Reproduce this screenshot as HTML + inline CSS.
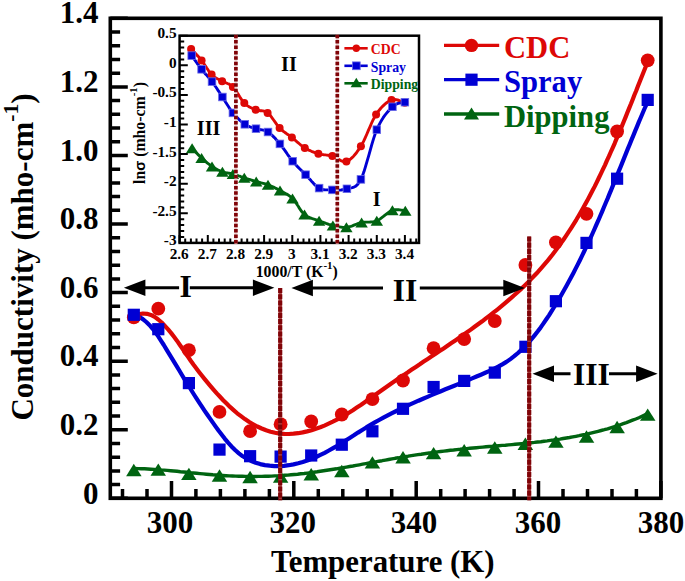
<!DOCTYPE html>
<html><head><meta charset="utf-8"><title>Conductivity vs Temperature</title>
<style>html,body{margin:0;padding:0;background:#fff}body{width:685px;height:581px;overflow:hidden;font-family:"Liberation Serif",serif}</style></head>
<body>
<svg width="685" height="581" viewBox="0 0 685 581" style="display:block;font-family:'Liberation Serif',serif;font-weight:bold">
<rect width="685" height="581" fill="#fff"/>
<path d="M134.7 468.5 L138.0 468.6 L141.2 468.7 L144.5 468.8 L147.8 469.0 L151.0 469.2 L154.3 469.4 L157.5 469.6 L160.8 469.9 L164.1 470.1 L167.3 470.4 L170.6 470.7 L173.8 471.0 L177.1 471.3 L180.4 471.7 L183.6 472.0 L186.9 472.3 L190.1 472.7 L193.4 473.0 L196.7 473.3 L199.9 473.6 L203.2 473.9 L206.4 474.2 L209.7 474.5 L212.9 474.8 L216.2 475.0 L219.5 475.3 L222.7 475.5 L226.0 475.7 L229.2 475.9 L232.5 476.0 L235.7 476.1 L239.0 476.2 L242.3 476.3 L245.5 476.4 L248.8 476.4 L252.0 476.5 L255.3 476.5 L258.5 476.4 L261.8 476.4 L265.0 476.3 L268.3 476.2 L271.5 476.1 L274.8 475.9 L278.1 475.8 L281.3 475.6 L284.6 475.3 L287.8 475.1 L291.1 474.8 L294.3 474.5 L297.6 474.2 L300.8 473.8 L304.1 473.5 L307.3 473.1 L310.6 472.7 L313.8 472.2 L317.1 471.8 L320.3 471.3 L323.6 470.8 L326.8 470.3 L330.1 469.8 L333.4 469.3 L336.6 468.8 L339.9 468.2 L343.1 467.7 L346.4 467.1 L349.6 466.5 L352.9 466.0 L356.1 465.4 L359.4 464.8 L362.6 464.2 L365.9 463.6 L369.1 463.0 L372.4 462.4 L375.6 461.8 L378.9 461.2 L382.1 460.7 L385.4 460.1 L388.6 459.5 L391.9 458.9 L395.1 458.3 L398.4 457.8 L401.6 457.2 L404.9 456.7 L408.1 456.2 L411.4 455.6 L414.6 455.1 L417.9 454.6 L421.1 454.2 L424.4 453.7 L427.6 453.2 L430.9 452.8 L434.1 452.3 L437.4 451.9 L440.6 451.5 L443.9 451.1 L447.1 450.7 L450.4 450.3 L453.6 450.0 L456.9 449.6 L460.1 449.3 L463.3 448.9 L466.6 448.6 L469.8 448.3 L473.1 448.0 L476.3 447.7 L479.5 447.4 L482.8 447.1 L486.0 446.8 L489.3 446.5 L492.5 446.3 L495.7 446.0 L498.9 445.7 L502.2 445.4 L505.4 445.2 L508.6 444.9 L511.9 444.6 L515.1 444.3 L518.3 444.0 L521.5 443.7 L524.7 443.4 L527.9 443.1 L531.2 442.7 L534.4 442.4 L537.6 442.0 L540.8 441.7 L544.0 441.3 L547.2 440.9 L550.4 440.4 L553.6 440.0 L556.8 439.5 L560.0 439.1 L563.2 438.5 L566.4 438.0 L569.5 437.5 L572.7 436.9 L575.9 436.3 L579.1 435.7 L582.3 435.0 L585.4 434.4 L588.6 433.7 L591.8 432.9 L594.9 432.1 L598.1 431.3 L601.2 430.5 L604.4 429.7 L607.6 428.8 L610.7 427.8 L613.8 426.8 L617.0 425.8 L620.1 424.8 L623.3 423.7 L626.4 422.6 L629.5 421.4 L632.6 420.2 L635.8 419.0 L638.9 417.7 L642.0 416.3 L645.1 414.9 L648.2 413.5" fill="none" stroke="#006411" stroke-width="3.4" stroke-linejoin="round" stroke-linecap="round"/>
<path d="M134.0 316.5 L138.6 314.4 L142.9 313.5 L147.0 313.8 L150.9 314.9 L154.7 316.9 L158.2 319.5 L161.7 322.5 L164.9 325.9 L168.1 329.4 L171.2 333.1 L174.2 337.0 L177.1 340.9 L179.9 345.0 L182.7 349.0 L185.4 353.0 L188.2 357.0 L190.9 361.0 L193.6 364.8 L196.4 368.5 L199.2 372.2 L202.0 375.8 L204.9 379.4 L207.8 382.9 L210.7 386.4 L213.7 389.9 L216.8 393.4 L220.0 396.8 L223.2 400.2 L226.6 403.6 L230.0 406.9 L233.6 410.1 L237.2 413.3 L241.0 416.2 L244.9 419.1 L248.9 421.8 L253.1 424.2 L257.3 426.5 L261.7 428.5 L266.1 430.3 L270.6 431.7 L275.1 432.8 L279.7 433.6 L284.3 433.9 L288.9 434.0 L293.5 433.7 L298.1 433.2 L302.7 432.4 L307.1 431.4 L311.6 430.2 L315.9 428.8 L320.2 427.3 L324.4 425.6 L328.6 423.7 L332.8 421.7 L336.9 419.6 L340.9 417.4 L344.9 415.1 L348.9 412.7 L352.9 410.2 L356.8 407.6 L360.8 405.0 L364.7 402.3 L368.6 399.6 L372.5 396.8 L376.4 394.1 L380.3 391.3 L384.2 388.5 L388.1 385.8 L392.0 383.0 L396.0 380.3 L399.9 377.6 L403.9 374.9 L407.9 372.3 L411.8 369.6 L415.8 366.9 L419.8 364.3 L423.7 361.6 L427.7 359.0 L431.7 356.3 L435.6 353.7 L439.6 351.1 L443.6 348.4 L447.5 345.7 L451.4 343.1 L455.3 340.4 L459.2 337.7 L463.1 335.0 L467.0 332.3 L470.8 329.6 L474.6 326.8 L478.4 324.0 L482.2 321.3 L485.9 318.4 L489.6 315.6 L493.3 312.7 L497.0 309.8 L500.6 306.9 L504.2 303.9 L507.7 300.9 L511.2 297.9 L514.7 294.8 L518.1 291.7 L521.5 288.6 L524.8 285.4 L528.1 282.2 L531.3 278.9 L534.5 275.5 L537.7 272.2 L540.8 268.7 L543.8 265.2 L546.8 261.7 L549.7 258.1 L552.6 254.5 L555.4 250.8 L558.2 247.1 L560.9 243.3 L563.6 239.5 L566.2 235.6 L568.8 231.7 L571.3 227.8 L573.8 223.8 L576.3 219.8 L578.7 215.7 L581.1 211.6 L583.4 207.5 L585.7 203.4 L588.0 199.2 L590.2 195.0 L592.4 190.8 L594.6 186.6 L596.7 182.3 L598.8 178.0 L600.9 173.7 L602.9 169.4 L605.0 165.1 L606.9 160.7 L608.9 156.4 L610.8 152.0 L612.8 147.6 L614.7 143.3 L616.5 138.9 L618.4 134.5 L620.2 130.1 L622.1 125.7 L623.9 121.3 L625.7 116.9 L627.4 112.5 L629.2 108.1 L631.0 103.8 L632.7 99.4 L634.4 95.0 L636.2 90.7 L637.9 86.3 L639.6 82.0 L641.3 77.7 L643.0 73.4 L644.7 69.2 L646.4 64.9 L648.1 60.7" fill="none" stroke="#dd0806" stroke-width="4.2" stroke-linejoin="round" stroke-linecap="round"/>
<path d="M134.9 314.8 L139.0 316.7 L142.8 319.1 L146.3 322.0 L149.6 325.2 L152.7 328.8 L155.6 332.6 L158.4 336.6 L161.1 340.8 L163.8 345.0 L166.4 349.3 L169.0 353.6 L171.6 357.8 L174.2 362.1 L176.8 366.3 L179.3 370.5 L181.8 374.7 L184.3 378.8 L186.9 382.9 L189.4 387.0 L191.8 391.0 L194.3 395.0 L196.8 398.9 L199.4 402.8 L201.9 406.7 L204.5 410.6 L207.2 414.5 L209.9 418.4 L212.7 422.4 L215.5 426.4 L218.5 430.5 L221.6 434.5 L224.7 438.6 L228.1 442.6 L231.5 446.4 L235.1 450.0 L238.9 453.3 L242.8 456.3 L246.9 458.8 L251.2 461.0 L255.7 462.7 L260.2 464.1 L264.9 465.1 L269.6 465.7 L274.4 466.1 L279.2 466.1 L284.0 465.8 L288.8 465.2 L293.5 464.4 L298.2 463.3 L302.8 462.0 L307.3 460.5 L311.7 458.8 L316.1 457.0 L320.4 454.9 L324.7 452.8 L328.9 450.5 L333.1 448.1 L337.3 445.7 L341.5 443.1 L345.6 440.5 L349.7 437.9 L353.9 435.3 L358.0 432.6 L362.2 430.0 L366.3 427.4 L370.5 424.9 L374.8 422.4 L379.1 420.0 L383.4 417.7 L387.7 415.4 L392.0 413.2 L396.4 411.0 L400.8 408.9 L405.2 406.8 L409.6 404.7 L414.1 402.7 L418.5 400.7 L423.0 398.8 L427.5 396.8 L432.0 394.9 L436.4 393.1 L440.9 391.2 L445.4 389.3 L449.9 387.5 L454.3 385.7 L458.8 383.9 L463.3 382.0 L467.7 380.2 L472.1 378.4 L476.5 376.5 L480.9 374.7 L485.3 372.8 L489.6 370.9 L493.9 368.9 L498.2 366.7 L502.3 364.4 L506.4 361.9 L510.4 359.1 L514.2 356.2 L518.0 353.0 L521.6 349.6 L525.1 346.2 L528.5 342.6 L531.7 338.9 L534.8 335.1 L537.8 331.3 L540.7 327.4 L543.5 323.4 L546.3 319.3 L549.0 315.3 L551.6 311.1 L554.2 307.0 L556.7 302.8 L559.2 298.7 L561.6 294.5 L564.0 290.3 L566.4 286.0 L568.7 281.8 L571.0 277.5 L573.3 273.2 L575.5 268.9 L577.7 264.6 L579.9 260.2 L582.0 255.9 L584.1 251.5 L586.2 247.2 L588.3 242.8 L590.3 238.4 L592.3 234.0 L594.3 229.5 L596.2 225.1 L598.2 220.7 L600.1 216.2 L602.0 211.8 L603.9 207.3 L605.8 202.8 L607.7 198.4 L609.5 193.9 L611.4 189.4 L613.2 184.9 L615.1 180.4 L616.9 175.9 L618.7 171.4 L620.6 166.9 L622.4 162.4 L624.2 157.9 L626.0 153.4 L627.8 148.9 L629.7 144.4 L631.5 139.9 L633.4 135.4 L635.2 130.9 L637.1 126.4 L638.9 121.9 L640.8 117.5 L642.7 113.0 L644.6 108.5 L646.6 104.1 L648.5 99.6" fill="none" stroke="#0000d4" stroke-width="4.2" stroke-linejoin="round" stroke-linecap="round"/>
<path d="M133.8 463.8 L141.6 476.2 L126.1 476.2Z" fill="#006411"/>
<path d="M158.3 463.4 L166.0 475.8 L150.5 475.8Z" fill="#006411"/>
<path d="M188.9 467.7 L196.6 480.1 L181.1 480.1Z" fill="#006411"/>
<path d="M219.5 469.3 L227.2 481.7 L211.7 481.7Z" fill="#006411"/>
<path d="M250.1 470.8 L257.8 483.2 L242.3 483.2Z" fill="#006411"/>
<path d="M280.6 470.4 L288.4 482.8 L272.9 482.8Z" fill="#006411"/>
<path d="M311.2 468.0 L319.0 480.4 L303.5 480.4Z" fill="#006411"/>
<path d="M341.8 464.8 L349.6 477.2 L334.1 477.2Z" fill="#006411"/>
<path d="M372.4 456.2 L380.2 468.6 L364.7 468.6Z" fill="#006411"/>
<path d="M403.0 451.1 L410.8 463.5 L395.3 463.5Z" fill="#006411"/>
<path d="M433.6 446.9 L441.3 459.3 L425.8 459.3Z" fill="#006411"/>
<path d="M464.2 444.1 L471.9 456.5 L456.4 456.5Z" fill="#006411"/>
<path d="M494.8 441.3 L502.5 453.7 L487.0 453.7Z" fill="#006411"/>
<path d="M525.4 437.6 L533.1 450.0 L517.6 450.0Z" fill="#006411"/>
<path d="M555.9 435.4 L563.7 447.8 L548.2 447.8Z" fill="#006411"/>
<path d="M586.5 430.3 L594.3 442.7 L578.8 442.7Z" fill="#006411"/>
<path d="M617.1 420.8 L624.9 433.2 L609.4 433.2Z" fill="#006411"/>
<path d="M647.7 408.4 L655.5 420.8 L640.0 420.8Z" fill="#006411"/>
<circle cx="133.8" cy="317.4" r="6.9" fill="#dd0806"/>
<circle cx="158.3" cy="308.7" r="6.9" fill="#dd0806"/>
<circle cx="188.9" cy="350.2" r="6.9" fill="#dd0806"/>
<circle cx="219.5" cy="411.9" r="6.9" fill="#dd0806"/>
<circle cx="250.1" cy="431.2" r="6.9" fill="#dd0806"/>
<circle cx="280.6" cy="424.2" r="6.9" fill="#dd0806"/>
<circle cx="311.2" cy="421.5" r="6.9" fill="#dd0806"/>
<circle cx="341.8" cy="414.5" r="6.9" fill="#dd0806"/>
<circle cx="372.4" cy="399.2" r="6.9" fill="#dd0806"/>
<circle cx="403.0" cy="380.5" r="6.9" fill="#dd0806"/>
<circle cx="433.6" cy="348.2" r="6.9" fill="#dd0806"/>
<circle cx="464.2" cy="339.1" r="6.9" fill="#dd0806"/>
<circle cx="494.8" cy="321.0" r="6.9" fill="#dd0806"/>
<circle cx="525.4" cy="265.0" r="6.9" fill="#dd0806"/>
<circle cx="555.9" cy="242.3" r="6.9" fill="#dd0806"/>
<circle cx="586.5" cy="213.8" r="6.9" fill="#dd0806"/>
<circle cx="617.1" cy="131.5" r="6.9" fill="#dd0806"/>
<circle cx="647.7" cy="60.3" r="6.9" fill="#dd0806"/>
<rect x="127.7" y="308.7" width="12.2" height="12.2" fill="#0000d4"/>
<rect x="152.2" y="323.1" width="12.2" height="12.2" fill="#0000d4"/>
<rect x="182.8" y="377.0" width="12.2" height="12.2" fill="#0000d4"/>
<rect x="213.4" y="443.5" width="12.2" height="12.2" fill="#0000d4"/>
<rect x="244.0" y="450.1" width="12.2" height="12.2" fill="#0000d4"/>
<rect x="274.5" y="450.5" width="12.2" height="12.2" fill="#0000d4"/>
<rect x="305.1" y="449.4" width="12.2" height="12.2" fill="#0000d4"/>
<rect x="335.7" y="438.6" width="12.2" height="12.2" fill="#0000d4"/>
<rect x="366.3" y="425.2" width="12.2" height="12.2" fill="#0000d4"/>
<rect x="396.9" y="402.7" width="12.2" height="12.2" fill="#0000d4"/>
<rect x="427.5" y="380.9" width="12.2" height="12.2" fill="#0000d4"/>
<rect x="458.1" y="374.8" width="12.2" height="12.2" fill="#0000d4"/>
<rect x="488.7" y="366.5" width="12.2" height="12.2" fill="#0000d4"/>
<rect x="519.3" y="340.7" width="12.2" height="12.2" fill="#0000d4"/>
<rect x="549.8" y="295.1" width="12.2" height="12.2" fill="#0000d4"/>
<rect x="580.4" y="236.8" width="12.2" height="12.2" fill="#0000d4"/>
<rect x="611.0" y="172.6" width="12.2" height="12.2" fill="#0000d4"/>
<rect x="641.6" y="93.8" width="12.2" height="12.2" fill="#0000d4"/>
<g stroke="#000" stroke-width="3.5" fill="none">
<rect x="110.3" y="18.3" width="550.6" height="480.0" stroke-width="3.6"/>
<path d="M110.3 498.3h17.5M110.3 484.6h9.8M110.3 470.9h9.8M110.3 457.2h9.8M110.3 443.4h9.8M110.3 429.7h17.5M110.3 416.0h9.8M110.3 402.3h9.8M110.3 388.6h9.8M110.3 374.9h9.8M110.3 361.2h17.5M110.3 347.4h9.8M110.3 333.7h9.8M110.3 320.0h9.8M110.3 306.3h9.8M110.3 292.6h17.5M110.3 278.9h9.8M110.3 265.2h9.8M110.3 251.4h9.8M110.3 237.7h9.8M110.3 224.0h17.5M110.3 210.3h9.8M110.3 196.6h9.8M110.3 182.9h9.8M110.3 169.2h9.8M110.3 155.4h17.5M110.3 141.7h9.8M110.3 128.0h9.8M110.3 114.3h9.8M110.3 100.6h9.8M110.3 86.9h17.5M110.3 73.2h9.8M110.3 59.4h9.8M110.3 45.7h9.8M110.3 32.0h9.8M110.3 18.3h17.5M122.5 498.3v-9.3M147.0 498.3v-9.3M171.5 498.3v-17.2M195.9 498.3v-9.3M220.4 498.3v-9.3M244.9 498.3v-9.3M269.4 498.3v-9.3M293.8 498.3v-17.2M318.3 498.3v-9.3M342.8 498.3v-9.3M367.2 498.3v-9.3M391.7 498.3v-9.3M416.2 498.3v-17.2M440.7 498.3v-9.3M465.1 498.3v-9.3M489.6 498.3v-9.3M514.1 498.3v-9.3M538.5 498.3v-17.2M563.0 498.3v-9.3M587.5 498.3v-9.3M612.0 498.3v-9.3M636.4 498.3v-9.3M660.9 498.3v-17.2"/>
</g>
<line x1="280.2" y1="288.0" x2="280.2" y2="500.2" stroke="#b04a4a" stroke-width="3.4"/><line x1="280.2" y1="288.0" x2="280.2" y2="500.2" stroke="#800408" stroke-width="4.2" stroke-dasharray="5.1 1.1"/>
<line x1="529.2" y1="236.4" x2="529.2" y2="500.2" stroke="#b04a4a" stroke-width="3.4"/><line x1="529.2" y1="236.4" x2="529.2" y2="500.2" stroke="#800408" stroke-width="4.2" stroke-dasharray="5.1 1.1"/>
<g font-size="31px" fill="#000">
<text x="98.5" y="503.5" text-anchor="end">0</text>
<text x="98.5" y="434.9" text-anchor="end">0.2</text>
<text x="98.5" y="366.4" text-anchor="end">0.4</text>
<text x="98.5" y="297.8" text-anchor="end">0.6</text>
<text x="98.5" y="229.2" text-anchor="end">0.8</text>
<text x="98.5" y="160.6" text-anchor="end">1.0</text>
<text x="98.5" y="92.1" text-anchor="end">1.2</text>
<text x="98.5" y="22.5" text-anchor="end">1.4</text>
<text x="170.0" y="532.5" text-anchor="middle">300</text>
<text x="292.8" y="532.5" text-anchor="middle">320</text>
<text x="414.1" y="532.5" text-anchor="middle">340</text>
<text x="537.9" y="532.5" text-anchor="middle">360</text>
<text x="660.9" y="532.5" text-anchor="middle">380</text>
</g>
<text x="382.8" y="572" font-size="30.85px" text-anchor="middle">Temperature (K)</text>
<text transform="translate(33,257) rotate(-90)" font-size="31px" text-anchor="middle">Conductivity (mho-cm<tspan dy="-15.5" font-size="21.5px">-1</tspan><tspan dy="15.5">)</tspan></text>
<line x1="444" y1="45.4" x2="499.2" y2="45.4" stroke="#dd0806" stroke-width="3.3"/>
<circle cx="471.5" cy="45.4" r="6.7" fill="#dd0806"/>
<text x="504" y="58.0" font-size="30.6px" fill="#dd0806">CDC</text>
<line x1="444" y1="79.7" x2="499.2" y2="79.7" stroke="#0000d4" stroke-width="3.3"/>
<rect x="465.4" y="73.6" width="12.2" height="12.2" fill="#0000d4"/>
<text x="504" y="92.3" font-size="30.6px" fill="#0000d4">Spray</text>
<line x1="444" y1="114.0" x2="499.2" y2="114.0" stroke="#006411" stroke-width="3.3"/>
<path d="M471.5 107.5 L479.0 119.5 L464.0 119.5Z" fill="#006411"/>
<text x="504" y="126.6" font-size="30.6px" fill="#006411">Dipping</text>
<line x1="133.9" y1="287.7" x2="264.4" y2="287.7" stroke="#000" stroke-width="3.1"/><path d="M123.9 287.7 l21.5 -8.2 v16.4z M274.4 287.7 l-21.5 -8.2 v16.4z" fill="#000"/><rect x="179.1" y="275.7" width="10.7" height="24" fill="#fff"/><text x="185.6" y="297.2" font-size="31.6px" text-anchor="middle">I</text>
<line x1="301.4" y1="288.0" x2="514.8" y2="288.0" stroke="#000" stroke-width="3.1"/><path d="M291.4 288.0 l21.5 -8.2 v16.4z M524.8 288.0 l-21.5 -8.2 v16.4z" fill="#000"/><rect x="383.0" y="276.0" width="36.8" height="24" fill="#fff"/><text x="405.1" y="300.6" font-size="31.6px" text-anchor="middle">II</text>
<line x1="542.5" y1="373.8" x2="647.6" y2="373.8" stroke="#000" stroke-width="3.1"/><path d="M532.5 373.8 l21.5 -8.2 v16.4z M657.6 373.8 l-21.5 -8.2 v16.4z" fill="#000"/><rect x="570.5" y="361.8" width="38.5" height="24" fill="#fff"/><text x="591.4" y="384.8" font-size="31.6px" text-anchor="middle">III</text>
<rect x="179.6" y="35.7" width="239.4" height="207.2" fill="#fff"/>
<path d="M192.1 148.2 L192.7 148.8 L193.4 149.6 L194.2 150.5 L195.2 151.5 L196.2 152.6 L197.3 153.7 L198.4 154.9 L199.5 156.0 L200.6 157.0 L201.6 158.0 L202.6 158.9 L203.6 159.8 L204.7 160.7 L205.7 161.6 L206.7 162.5 L207.8 163.3 L208.9 164.1 L209.9 164.9 L211.0 165.7 L212.0 166.4 L213.0 167.1 L214.1 167.7 L215.1 168.3 L216.2 168.9 L217.2 169.5 L218.2 170.0 L219.3 170.5 L220.3 171.0 L221.4 171.4 L222.4 171.8 L223.4 172.1 L224.5 172.4 L225.5 172.6 L226.5 172.8 L227.6 173.0 L228.6 173.2 L229.7 173.3 L230.7 173.5 L231.8 173.7 L232.9 174.0 L234.0 174.3 L235.1 174.7 L236.2 175.0 L237.4 175.4 L238.5 175.8 L239.7 176.2 L240.8 176.6 L242.0 177.0 L243.1 177.4 L244.3 177.8 L245.5 178.2 L246.6 178.6 L247.8 179.0 L249.0 179.3 L250.2 179.7 L251.4 180.1 L252.6 180.5 L253.8 180.9 L255.0 181.2 L256.2 181.6 L257.4 181.9 L258.6 182.2 L259.7 182.5 L260.9 182.8 L262.1 183.1 L263.3 183.4 L264.4 183.7 L265.6 184.0 L266.8 184.4 L268.0 184.8 L269.2 185.3 L270.4 185.8 L271.6 186.3 L272.8 186.8 L274.0 187.4 L275.2 188.0 L276.4 188.6 L277.6 189.3 L278.8 189.9 L280.0 190.6 L281.2 191.3 L282.5 191.9 L283.7 192.5 L285.0 193.2 L286.2 193.9 L287.5 194.6 L288.8 195.4 L290.0 196.3 L291.3 197.3 L292.5 198.4 L293.7 199.7 L294.9 201.2 L296.1 202.9 L297.2 204.7 L298.4 206.5 L299.5 208.4 L300.7 210.1 L301.9 211.8 L303.2 213.2 L304.5 214.5 L305.9 215.5 L307.3 216.4 L308.7 217.2 L310.2 217.8 L311.7 218.4 L313.2 218.9 L314.7 219.3 L316.2 219.8 L317.7 220.3 L319.1 220.8 L320.5 221.3 L321.9 221.9 L323.3 222.4 L324.7 222.9 L326.1 223.4 L327.4 223.8 L328.8 224.3 L330.2 224.7 L331.5 225.1 L332.9 225.4 L334.3 225.7 L335.6 226.1 L336.9 226.4 L338.2 226.7 L339.6 226.9 L340.9 227.1 L342.2 227.3 L343.6 227.4 L345.0 227.4 L346.4 227.3 L347.9 227.1 L349.3 226.7 L350.8 226.3 L352.4 225.8 L353.9 225.2 L355.4 224.6 L357.0 224.0 L358.5 223.5 L360.1 223.0 L361.6 222.6 L363.1 222.3 L364.6 222.2 L366.1 222.1 L367.7 222.1 L369.2 222.1 L370.7 222.0 L372.2 221.9 L373.7 221.7 L375.3 221.3 L376.8 220.8 L378.4 220.1 L379.9 219.1 L381.5 217.9 L383.1 216.7 L384.7 215.4 L386.3 214.1 L387.9 212.9 L389.4 211.8 L390.9 210.9 L392.4 210.3 L393.9 209.9 L395.4 209.7 L396.9 209.7 L398.4 209.7 L399.8 209.9 L401.2 210.1 L402.5 210.3 L403.6 210.6 L404.5 210.7 L405.3 210.8" fill="none" stroke="#006411" stroke-width="2.9" stroke-linejoin="round"/>
<path d="M191.1 49.0 L191.7 49.7 L192.5 50.5 L193.5 51.5 L194.6 52.6 L195.7 53.8 L196.9 55.1 L198.2 56.4 L199.4 57.8 L200.5 59.1 L201.6 60.4 L202.6 61.7 L203.6 63.2 L204.6 64.7 L205.6 66.2 L206.6 67.8 L207.6 69.3 L208.6 70.8 L209.6 72.2 L210.6 73.5 L211.6 74.6 L212.6 75.6 L213.7 76.4 L214.7 77.2 L215.7 77.8 L216.8 78.4 L217.9 79.0 L218.9 79.5 L220.0 80.1 L221.0 80.6 L222.1 81.2 L223.2 81.8 L224.2 82.2 L225.3 82.6 L226.4 83.0 L227.4 83.5 L228.5 83.9 L229.6 84.4 L230.7 85.1 L231.8 85.9 L232.9 86.9 L234.0 88.1 L235.1 89.6 L236.3 91.3 L237.4 93.1 L238.6 94.9 L239.7 96.8 L240.9 98.6 L242.0 100.3 L243.2 101.8 L244.3 103.1 L245.4 104.2 L246.6 105.1 L247.7 105.9 L248.8 106.6 L250.0 107.2 L251.1 107.8 L252.2 108.3 L253.4 108.8 L254.5 109.2 L255.7 109.7 L256.9 110.1 L258.0 110.4 L259.2 110.5 L260.4 110.7 L261.6 110.8 L262.8 110.9 L264.0 111.2 L265.2 111.6 L266.4 112.1 L267.6 112.9 L268.8 113.9 L270.0 115.2 L271.2 116.7 L272.4 118.3 L273.6 120.0 L274.8 121.7 L276.0 123.4 L277.2 125.1 L278.4 126.6 L279.6 127.9 L280.8 129.1 L282.0 130.2 L283.2 131.2 L284.5 132.1 L285.7 133.0 L286.9 133.9 L288.2 134.7 L289.4 135.6 L290.6 136.5 L291.9 137.5 L293.2 138.5 L294.4 139.6 L295.7 140.7 L297.0 141.8 L298.3 142.9 L299.6 144.0 L300.9 145.1 L302.2 146.1 L303.5 147.0 L304.8 147.9 L306.1 148.7 L307.5 149.4 L308.8 150.1 L310.2 150.7 L311.5 151.3 L312.9 151.8 L314.3 152.4 L315.6 152.8 L317.0 153.3 L318.4 153.7 L319.8 154.1 L321.2 154.4 L322.6 154.6 L324.0 154.8 L325.4 154.9 L326.8 155.1 L328.2 155.3 L329.6 155.5 L331.0 155.8 L332.4 156.1 L333.8 156.6 L335.2 157.3 L336.6 158.1 L338.0 159.0 L339.4 159.8 L340.8 160.6 L342.2 161.2 L343.6 161.6 L345.0 161.7 L346.4 161.4 L347.8 160.8 L349.3 160.0 L350.7 158.9 L352.1 157.6 L353.6 156.2 L355.0 154.5 L356.5 152.7 L357.9 150.7 L359.4 148.6 L360.9 146.3 L362.4 143.7 L363.9 140.7 L365.4 137.4 L366.9 134.0 L368.4 130.4 L370.0 126.8 L371.5 123.3 L373.0 120.0 L374.6 117.1 L376.1 114.5 L377.6 112.3 L379.2 110.2 L380.8 108.3 L382.3 106.6 L383.9 105.1 L385.5 103.7 L387.0 102.5 L388.6 101.5 L390.0 100.7 L391.5 100.0 L393.0 99.6 L394.5 99.5 L396.1 99.7 L397.6 100.0 L399.1 100.5 L400.5 101.1 L401.9 101.6 L403.0 102.1 L404.0 102.6 L404.8 102.8" fill="none" stroke="#dd0806" stroke-width="2.9" stroke-linejoin="round"/>
<path d="M191.7 55.6 L192.3 56.4 L193.0 57.5 L193.9 58.7 L194.9 60.2 L196.0 61.7 L197.1 63.3 L198.3 64.9 L199.4 66.4 L200.5 67.9 L201.6 69.3 L202.6 70.6 L203.6 71.8 L204.7 73.0 L205.7 74.2 L206.8 75.3 L207.8 76.5 L208.9 77.7 L209.9 79.0 L211.0 80.3 L212.0 81.6 L213.0 83.0 L214.1 84.5 L215.1 86.0 L216.2 87.5 L217.2 89.1 L218.2 90.7 L219.3 92.2 L220.3 93.8 L221.4 95.4 L222.4 97.0 L223.4 98.6 L224.5 100.2 L225.5 101.9 L226.5 103.5 L227.6 105.2 L228.6 106.8 L229.6 108.4 L230.7 110.0 L231.8 111.5 L232.9 112.9 L234.0 114.3 L235.2 115.6 L236.4 116.9 L237.6 118.1 L238.8 119.3 L240.0 120.5 L241.2 121.5 L242.4 122.5 L243.6 123.5 L244.8 124.3 L245.9 125.0 L247.1 125.6 L248.2 126.2 L249.3 126.6 L250.4 127.0 L251.5 127.4 L252.6 127.7 L253.7 128.0 L254.9 128.3 L256.0 128.7 L257.2 129.0 L258.4 129.3 L259.5 129.5 L260.7 129.7 L262.0 129.9 L263.2 130.1 L264.4 130.4 L265.6 130.8 L266.8 131.3 L268.0 132.0 L269.2 132.8 L270.4 133.7 L271.5 134.8 L272.7 135.9 L273.9 137.1 L275.1 138.3 L276.3 139.7 L277.5 141.0 L278.7 142.5 L279.9 143.9 L281.1 145.4 L282.4 147.1 L283.7 148.8 L285.0 150.6 L286.2 152.4 L287.5 154.3 L288.8 156.1 L290.1 157.9 L291.4 159.6 L292.7 161.2 L294.0 162.7 L295.3 164.1 L296.5 165.5 L297.8 166.9 L299.1 168.2 L300.4 169.5 L301.7 170.8 L303.0 172.1 L304.3 173.4 L305.6 174.7 L306.9 176.1 L308.3 177.6 L309.6 179.1 L311.0 180.6 L312.3 182.1 L313.7 183.6 L315.0 184.9 L316.4 186.2 L317.8 187.2 L319.1 188.1 L320.4 188.8 L321.8 189.2 L323.1 189.6 L324.4 189.8 L325.7 189.9 L327.0 189.9 L328.3 189.9 L329.7 189.9 L331.0 189.9 L332.4 189.9 L333.8 189.9 L335.2 190.0 L336.7 190.0 L338.1 190.1 L339.6 190.1 L341.1 190.0 L342.5 189.8 L344.0 189.6 L345.5 189.3 L346.9 188.8 L348.3 188.4 L349.7 188.1 L351.1 187.9 L352.4 187.6 L353.8 187.1 L355.2 186.5 L356.6 185.4 L358.0 184.0 L359.4 182.0 L360.9 179.4 L362.4 175.9 L364.0 171.6 L365.5 166.6 L367.1 161.1 L368.8 155.4 L370.4 149.6 L372.0 143.9 L373.6 138.6 L375.2 133.8 L376.8 129.7 L378.4 126.2 L380.0 123.1 L381.6 120.3 L383.2 117.7 L384.8 115.4 L386.4 113.4 L388.0 111.5 L389.5 109.8 L391.0 108.2 L392.4 106.8 L393.8 105.6 L395.3 104.6 L396.8 103.9 L398.2 103.4 L399.6 103.1 L400.9 102.8 L402.2 102.7 L403.2 102.5 L404.2 102.4 L404.9 102.2" fill="none" stroke="#0000d4" stroke-width="2.9" stroke-linejoin="round"/>
<path d="M192.1 143.2 L198.3 153.2 L185.9 153.2Z" fill="#006411"/>
<path d="M201.6 153.0 L207.8 163.0 L195.4 163.0Z" fill="#006411"/>
<path d="M212.0 161.4 L218.2 171.4 L205.8 171.4Z" fill="#006411"/>
<path d="M222.4 166.8 L228.6 176.8 L216.2 176.8Z" fill="#006411"/>
<path d="M232.9 169.0 L239.1 179.0 L226.7 179.0Z" fill="#006411"/>
<path d="M244.3 172.8 L250.5 182.8 L238.1 182.8Z" fill="#006411"/>
<path d="M256.2 176.6 L262.4 186.6 L250.0 186.6Z" fill="#006411"/>
<path d="M268.0 179.8 L274.2 189.8 L261.8 189.8Z" fill="#006411"/>
<path d="M280.0 185.6 L286.2 195.6 L273.8 195.6Z" fill="#006411"/>
<path d="M292.5 193.4 L298.7 203.4 L286.3 203.4Z" fill="#006411"/>
<path d="M304.5 209.5 L310.7 219.5 L298.3 219.5Z" fill="#006411"/>
<path d="M319.1 215.8 L325.3 225.8 L312.9 225.8Z" fill="#006411"/>
<path d="M332.9 220.4 L339.1 230.4 L326.7 230.4Z" fill="#006411"/>
<path d="M346.4 222.3 L352.6 232.3 L340.2 232.3Z" fill="#006411"/>
<path d="M361.6 217.6 L367.8 227.6 L355.4 227.6Z" fill="#006411"/>
<path d="M376.8 215.8 L383.0 225.8 L370.6 225.8Z" fill="#006411"/>
<path d="M392.4 205.3 L398.6 215.3 L386.2 215.3Z" fill="#006411"/>
<path d="M405.3 205.8 L411.5 215.8 L399.1 215.8Z" fill="#006411"/>
<circle cx="191.1" cy="49.0" r="4.0" fill="#dd0806"/>
<circle cx="201.6" cy="60.4" r="4.0" fill="#dd0806"/>
<circle cx="211.6" cy="74.6" r="4.0" fill="#dd0806"/>
<circle cx="222.1" cy="81.2" r="4.0" fill="#dd0806"/>
<circle cx="232.9" cy="86.9" r="4.0" fill="#dd0806"/>
<circle cx="244.3" cy="103.1" r="4.0" fill="#dd0806"/>
<circle cx="255.7" cy="109.7" r="4.0" fill="#dd0806"/>
<circle cx="267.6" cy="112.9" r="4.0" fill="#dd0806"/>
<circle cx="279.6" cy="127.9" r="4.0" fill="#dd0806"/>
<circle cx="291.9" cy="137.5" r="4.0" fill="#dd0806"/>
<circle cx="304.8" cy="147.9" r="4.0" fill="#dd0806"/>
<circle cx="318.4" cy="153.7" r="4.0" fill="#dd0806"/>
<circle cx="332.4" cy="156.1" r="4.0" fill="#dd0806"/>
<circle cx="346.4" cy="161.4" r="4.0" fill="#dd0806"/>
<circle cx="360.9" cy="146.3" r="4.0" fill="#dd0806"/>
<circle cx="376.1" cy="114.5" r="4.0" fill="#dd0806"/>
<circle cx="391.5" cy="100.0" r="4.0" fill="#dd0806"/>
<circle cx="404.8" cy="102.8" r="4.0" fill="#dd0806"/>
<rect x="187.9" y="51.8" width="7.6" height="7.6" fill="#0000d4" stroke="#6a6ae8" stroke-width="0.8"/>
<rect x="197.8" y="65.5" width="7.6" height="7.6" fill="#0000d4" stroke="#6a6ae8" stroke-width="0.8"/>
<rect x="208.2" y="77.8" width="7.6" height="7.6" fill="#0000d4" stroke="#6a6ae8" stroke-width="0.8"/>
<rect x="218.6" y="93.2" width="7.6" height="7.6" fill="#0000d4" stroke="#6a6ae8" stroke-width="0.8"/>
<rect x="229.1" y="109.1" width="7.6" height="7.6" fill="#0000d4" stroke="#6a6ae8" stroke-width="0.8"/>
<rect x="241.0" y="120.5" width="7.6" height="7.6" fill="#0000d4" stroke="#6a6ae8" stroke-width="0.8"/>
<rect x="252.2" y="124.9" width="7.6" height="7.6" fill="#0000d4" stroke="#6a6ae8" stroke-width="0.8"/>
<rect x="264.2" y="128.2" width="7.6" height="7.6" fill="#0000d4" stroke="#6a6ae8" stroke-width="0.8"/>
<rect x="276.1" y="140.1" width="7.6" height="7.6" fill="#0000d4" stroke="#6a6ae8" stroke-width="0.8"/>
<rect x="288.9" y="157.4" width="7.6" height="7.6" fill="#0000d4" stroke="#6a6ae8" stroke-width="0.8"/>
<rect x="301.8" y="170.9" width="7.6" height="7.6" fill="#0000d4" stroke="#6a6ae8" stroke-width="0.8"/>
<rect x="315.3" y="184.3" width="7.6" height="7.6" fill="#0000d4" stroke="#6a6ae8" stroke-width="0.8"/>
<rect x="328.6" y="186.1" width="7.6" height="7.6" fill="#0000d4" stroke="#6a6ae8" stroke-width="0.8"/>
<rect x="343.1" y="185.0" width="7.6" height="7.6" fill="#0000d4" stroke="#6a6ae8" stroke-width="0.8"/>
<rect x="357.1" y="175.6" width="7.6" height="7.6" fill="#0000d4" stroke="#6a6ae8" stroke-width="0.8"/>
<rect x="373.0" y="125.9" width="7.6" height="7.6" fill="#0000d4" stroke="#6a6ae8" stroke-width="0.8"/>
<rect x="388.6" y="103.0" width="7.6" height="7.6" fill="#0000d4" stroke="#6a6ae8" stroke-width="0.8"/>
<rect x="401.1" y="98.4" width="7.6" height="7.6" fill="#0000d4" stroke="#6a6ae8" stroke-width="0.8"/>
<g stroke="#000" fill="none">
<rect x="179.6" y="35.7" width="239.4" height="207.2" stroke-width="2.5"/>
<path d="M179.6 35.7h8.2M179.6 41.6h4.6M179.6 47.5h4.6M179.6 53.5h4.6M179.6 59.4h4.6M179.6 65.3h8.2M179.6 71.2h4.6M179.6 77.1h4.6M179.6 83.1h4.6M179.6 89.0h4.6M179.6 94.9h8.2M179.6 100.8h4.6M179.6 106.7h4.6M179.6 112.7h4.6M179.6 118.6h4.6M179.6 124.5h8.2M179.6 130.4h4.6M179.6 136.3h4.6M179.6 142.3h4.6M179.6 148.2h4.6M179.6 154.1h8.2M179.6 160.0h4.6M179.6 165.9h4.6M179.6 171.9h4.6M179.6 177.8h4.6M179.6 183.7h8.2M179.6 189.6h4.6M179.6 195.5h4.6M179.6 201.5h4.6M179.6 207.4h4.6M179.6 213.3h8.2M179.6 219.2h4.6M179.6 225.1h4.6M179.6 231.1h4.6M179.6 237.0h4.6M179.6 242.9h8.2M179.6 242.9v-8.0M185.2 242.9v-4.4M190.9 242.9v-4.4M196.5 242.9v-4.4M202.1 242.9v-4.4M207.8 242.9v-8.0M213.4 242.9v-4.4M219.0 242.9v-4.4M224.7 242.9v-4.4M230.3 242.9v-4.4M235.9 242.9v-8.0M241.6 242.9v-4.4M247.2 242.9v-4.4M252.8 242.9v-4.4M258.5 242.9v-4.4M264.1 242.9v-8.0M269.7 242.9v-4.4M275.4 242.9v-4.4M281.0 242.9v-4.4M286.6 242.9v-4.4M292.3 242.9v-8.0M297.9 242.9v-4.4M303.5 242.9v-4.4M309.2 242.9v-4.4M314.8 242.9v-4.4M320.4 242.9v-8.0M326.1 242.9v-4.4M331.7 242.9v-4.4M337.3 242.9v-4.4M343.0 242.9v-4.4M348.6 242.9v-8.0M354.2 242.9v-4.4M359.9 242.9v-4.4M365.5 242.9v-4.4M371.1 242.9v-4.4M376.8 242.9v-8.0M382.4 242.9v-4.4M388.0 242.9v-4.4M393.7 242.9v-4.4M399.3 242.9v-4.4M404.9 242.9v-8.0M410.6 242.9v-4.4M416.2 242.9v-4.4" stroke-width="2"/>
</g>
<line x1="235.9" y1="34.7" x2="235.9" y2="244.3" stroke="#ecd0d0" stroke-width="2.9"/><line x1="235.9" y1="34.7" x2="235.9" y2="244.3" stroke="#800408" stroke-width="3.7" stroke-dasharray="3.5 1.9"/>
<line x1="337.3" y1="34.7" x2="337.3" y2="244.3" stroke="#ecd0d0" stroke-width="2.9"/><line x1="337.3" y1="34.7" x2="337.3" y2="244.3" stroke="#800408" stroke-width="3.7" stroke-dasharray="3.5 1.9"/>
<g font-size="15.3px" fill="#000">
<text x="176.6" y="38.1" text-anchor="end">0.5</text>
<text x="176.6" y="67.7" text-anchor="end">0</text>
<text x="176.6" y="97.3" text-anchor="end">-0.5</text>
<text x="176.6" y="126.9" text-anchor="end">-1</text>
<text x="176.6" y="156.5" text-anchor="end">-1.5</text>
<text x="176.6" y="186.1" text-anchor="end">-2</text>
<text x="176.6" y="215.7" text-anchor="end">-2.5</text>
<text x="176.6" y="245.3" text-anchor="end">-3</text>
<text x="179.2" y="258.9" text-anchor="middle">2.6</text>
<text x="207.4" y="258.9" text-anchor="middle">2.7</text>
<text x="235.5" y="258.9" text-anchor="middle">2.8</text>
<text x="263.7" y="258.9" text-anchor="middle">2.9</text>
<text x="291.9" y="258.9" text-anchor="middle">3</text>
<text x="320.0" y="258.9" text-anchor="middle">3.1</text>
<text x="348.2" y="258.9" text-anchor="middle">3.2</text>
<text x="376.4" y="258.9" text-anchor="middle">3.3</text>
<text x="404.5" y="258.9" text-anchor="middle">3.4</text>
</g>
<text x="296.8" y="277.3" font-size="15.8px" text-anchor="middle">1000/T (K<tspan dy="-8.5" font-size="11px">-1</tspan><tspan dy="8.5">)</tspan></text>
<text transform="translate(145.4,133.0) rotate(-90)" font-size="15.8px" text-anchor="middle">ln<tspan font-family="'Liberation Sans',sans-serif" font-size="14.5px">σ</tspan> (mho-cm<tspan dy="-8" font-size="10.8px">-1</tspan><tspan dy="8">)</tspan></text>
<g font-size="20.3px"><text x="288.9" y="70.8" text-anchor="middle">II</text><text x="208.6" y="135.3" text-anchor="middle">III</text><text x="376.8" y="205.7" text-anchor="middle">I</text></g>
<line x1="344.4" y1="48.3" x2="367.7" y2="48.3" stroke="#dd0806" stroke-width="2.6"/>
<circle cx="356.3" cy="48.3" r="3.7" fill="#dd0806"/>
<text x="370.8" y="54.3" font-size="13.75px" fill="#dd0806">CDC</text>
<line x1="344.4" y1="65.8" x2="367.7" y2="65.8" stroke="#0000d4" stroke-width="2.6"/>
<rect x="352.4" y="61.9" width="7.8" height="7.8" fill="#0000d4" stroke="#6a6ae8" stroke-width="0.8"/>
<text x="370.8" y="71.8" font-size="13.75px" fill="#0000d4">Spray</text>
<line x1="344.4" y1="83.3" x2="367.7" y2="83.3" stroke="#006411" stroke-width="2.6"/>
<path d="M356.3 77.8 L362.0 87.2 L350.6 87.2Z" fill="#006411"/>
<text x="370.8" y="89.3" font-size="13.75px" fill="#006411">Dipping</text>
</svg>
</body></html>
